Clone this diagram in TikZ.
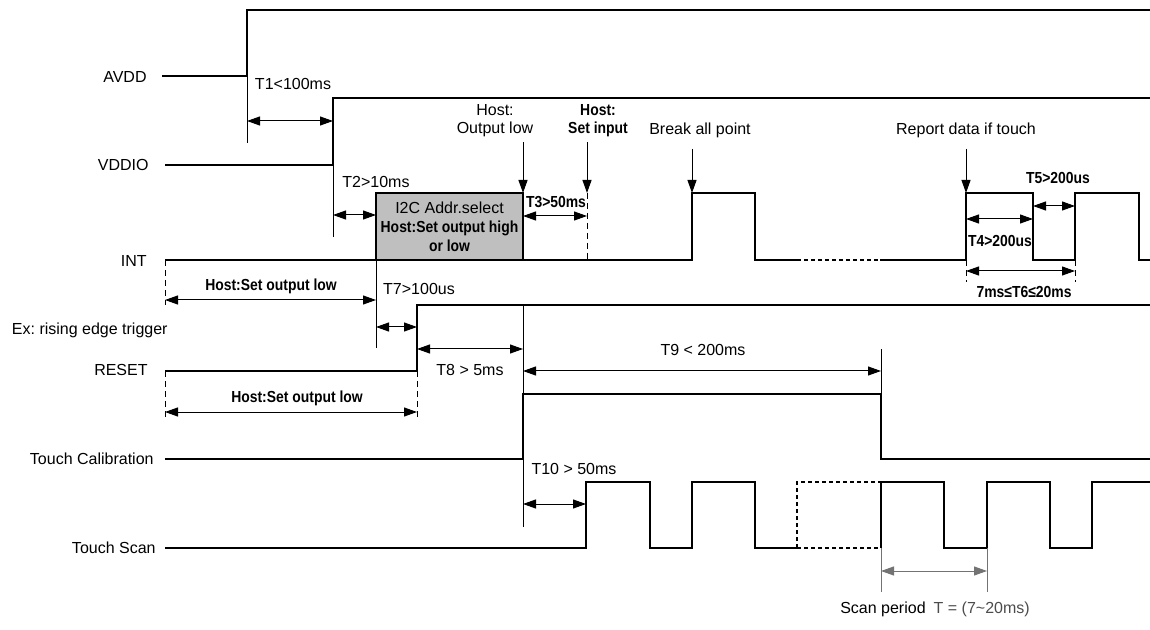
\documentclass[tikz,border=0pt]{standalone}
\usepackage{fontspec}
\setmainfont{Liberation Sans}
\usepackage{graphicx}
\usetikzlibrary{arrows.meta}

% narrow bold labels
\newcommand\nb[1]{\scalebox{0.87}[1]{#1}}

\begin{document}
\frenchspacing
\begin{tikzpicture}[x=0.5pt,y=-0.5pt,
    sig/.style={line width=1pt},
    dim/.style={line width=0.5pt},
    dimarr/.style={line width=0.5pt,{Triangle[length=6.5pt,width=4.5pt]}-{Triangle[length=6.5pt,width=4.5pt]}},
    downarr/.style={line width=0.5pt,-{Triangle[length=6.5pt,width=4.5pt]}},
    guide/.style={line width=0.5pt,dash pattern=on 3pt off 2pt},
    txt/.style={font=\fontsize{8}{9}\selectfont,inner sep=0pt,align=center},
    btxt/.style={font=\fontsize{8}{9}\selectfont\bfseries,inner sep=0pt,align=center},
    signame/.style={font=\fontsize{8}{9}\selectfont,anchor=east,inner sep=0pt}]

    \useasboundingbox (0,0) rectangle (1150,630);

    % Signal names
    \node[signame] (avdd) at (147,77) {AVDD};
    \node[signame] (vddio) at (149,165) {VDDIO};
    \node[signame] (int) at (147,261) {INT};
    \node[signame] (extrig) at (168,330) {Ex: rising edge trigger};
    \node[signame] (reset) at (148,370) {RESET};
    \node[signame] (calib) at (154,459) {Touch Calibration};
    \node[signame] (scan) at (156,548) {Touch Scan};

    % AVDD and VDDIO
    \draw[sig] (162,76) -- (247,76) -- (247,10) -- (1150,10);
    \draw[dim] (247,76) -- (247,143);
    \draw[sig] (165,165) -- (333,165) -- (333,98) -- (1150,98);
    \draw[dim] (333,165) -- (333,237);
    \draw[dimarr] (247,121) -- (333,121);
    \node[txt] (t1) at (293,84) {T1<100ms};
    \draw[dimarr] (333,215) -- (376,215);
    \node[txt] (t2) at (376,182) {T2>10ms};

    % INT
    \node[draw,line width=1pt,fill=black!25,minimum width=73.5pt,minimum height=33.5pt,
        font=\fontsize{8}{9.5}\selectfont,align=center,inner sep=0pt] (i2c) at (449.5,226.5)
        {I2C Addr.select\\\bfseries\nb{Host:Set output high}\\\bfseries\nb{or low}};
    \draw[sig] (165,260) -- (376,260);
    \draw[sig] (523,260) -- (692,260) -- (692,193) -- (755,193) -- (755,260) -- (797,260);
    \draw[sig,dash pattern=on 2pt off 1.5pt] (797,260) -- (880,260);
    \draw[sig] (880,260) -- (966,260) -- (966,193) -- (1033,193) -- (1033,260) -- (1075,260)
        -- (1075,193) -- (1139,193) -- (1139,260) -- (1150,260);
    \draw[dim] (376,260) -- (376,348);

    \draw[downarr] (523,142) -- (523,193);
    \node[txt] (outlow) at (495,121) {Host:\\Output low};
    \draw[downarr] (587,142) -- (587,193);
    \draw[guide] (587,193) -- (587,260);
    \node[btxt] (setin) at (598,121) {\nb{Host:}\\\nb{Set input}};
    \draw[dimarr] (523,216) -- (587,216);
    \node[btxt] (t3) at (556,202) {\nb{T3>50ms}};

    \draw[downarr] (692,149) -- (692,193);
    \node[txt] (brk) at (700,130) {Break all point};
    \draw[downarr] (966,149) -- (966,193);
    \node[txt] (rep) at (966,130) {Report data if touch};

    \draw[dimarr] (1033,206) -- (1075,206);
    \node[btxt] (t5) at (1058,178) {\nb{T5>200us}};
    \draw[dimarr] (966,219) -- (1033,219);
    \node[btxt] (t4) at (1000,241) {\nb{T4>200us}};
    \draw[guide] (966,260) -- (966,282);
    \draw[guide] (1075,260) -- (1075,282);
    \draw[dimarr] (966,271) -- (1075,271);
    \node[btxt] (t6) at (1024,292) {\nb{7ms≤T6≤20ms}};

    \draw[guide] (165,260) -- (165,305);
    \draw[dimarr] (165,300) -- (376,300);
    \node[btxt] (intlow) at (271,286) {\nb{Host:Set output low}};

    % RESET
    \draw[sig] (165,371) -- (417,371) -- (417,305) -- (1150,305);
    \draw[dimarr] (376,327) -- (417,327);
    \node[txt] (t7) at (419,289) {T7>100us};
    \draw[guide] (165,371) -- (165,418);
    \draw[guide] (417,371) -- (417,418);
    \draw[dimarr] (165,412) -- (417,412);
    \node[btxt] (rstlow) at (297,398) {\nb{Host:Set output low}};
    \draw[dim] (523,305) -- (523,527);
    \draw[dimarr] (417,349) -- (523,349);
    \node[txt] (t8) at (470,370) {T8 > 5ms};

    % Touch Calibration
    \draw[sig] (165,459) -- (523,459) -- (523,394) -- (881,394) -- (881,459) -- (1150,459);
    \draw[dim] (881,394) -- (881,349);
    \draw[dimarr] (523,371) -- (881,371);
    \node[txt] (t9) at (703,350) {T9 < 200ms};

    % Touch Scan
    \draw[sig] (165,548) -- (586,548) -- (586,482) -- (650,482) -- (650,548) -- (692,548)
        -- (692,482) -- (755,482) -- (755,548) -- (797,548);
    \draw[sig,dash pattern=on 2pt off 1.5pt] (797,548) -- (881,548) (797,548) -- (797,482) -- (881,482);
    \draw[sig] (881,548) -- (881,482) -- (944,482) -- (944,548) -- (987,548) -- (987,482)
        -- (1050,482) -- (1050,548) -- (1092,548) -- (1092,482) -- (1150,482);
    \draw[dimarr] (523,504) -- (586,504);
    \node[txt] (t10) at (574,469) {T10 > 50ms};

    % Scan period
    \draw[dim,black!55] (881,548) -- (881,592);
    \draw[dim,black!55] (987,548) -- (987,592);
    \draw[dimarr,black!55] (881,571) -- (987,571);
    \node[txt] (period) at (935,609) {Scan period\enspace{\color{black!70}T = (7\textasciitilde20ms)}};
\end{tikzpicture}
\end{document}
